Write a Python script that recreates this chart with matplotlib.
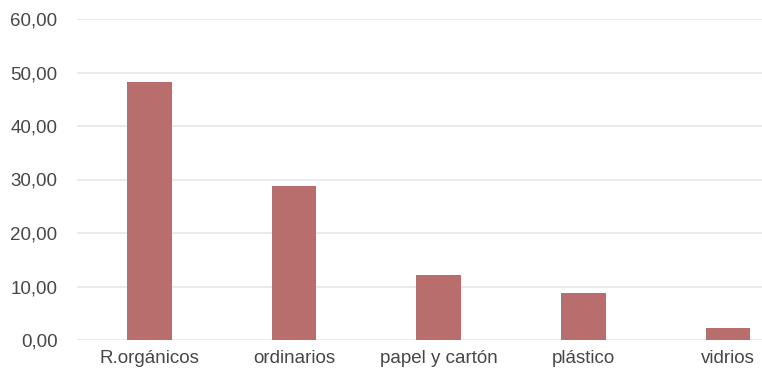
import matplotlib
matplotlib.use("Agg")
import matplotlib.pyplot as plt
from matplotlib.ticker import FuncFormatter

categories = ["R.orgánicos", "ordinarios", "papel y cartón", "plástico", "vidrios"]
values = [48.3, 28.8, 12.1, 8.8, 2.2]
y_ticks = [0, 10, 20, 30, 40, 50, 60]

plt.rcParams["font.family"] = ["Liberation Sans", "DejaVu Sans"]

fig = plt.figure(figsize=(7.62, 3.75), dpi=100)
ax = fig.add_axes([77 / 762, 35 / 375, 685 / 762, 321 / 375])

x = list(range(len(categories)))
ax.bar(x, values, width=0.31, color="#B96E6E", zorder=3)

ax.set_ylim(0, 60)
ax.set_xlim(-0.5, 4.235)
ax.set_yticks(y_ticks)
ax.yaxis.set_major_formatter(FuncFormatter(lambda v, _: f"{v:.2f}".replace(".", ",")))
ax.set_xticks(x)
ax.set_xticklabels(categories)

ax.grid(axis="y", color="#E8E8E8", linewidth=1.2, zorder=0)
for s in ax.spines.values():
    s.set_visible(False)
ax.tick_params(axis="both", length=0, labelsize=13.5, colors="#474747")
ax.tick_params(axis="y", pad=14)
ax.tick_params(axis="x", pad=7)

fig.savefig("out.png", dpi=100, facecolor="white")
